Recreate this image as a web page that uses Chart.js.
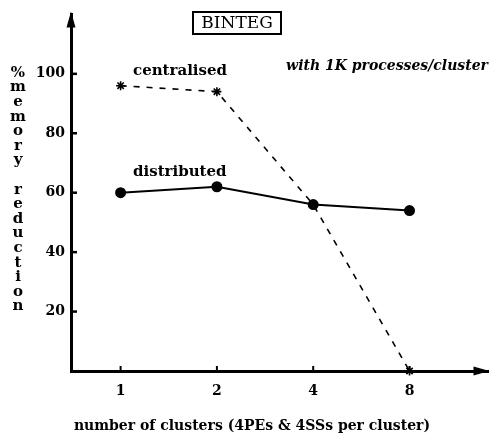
<!DOCTYPE html>
<html>
<head>
<meta charset="utf-8">
<script src="https://cdn.jsdelivr.net/npm/chart.js@4.4.0/dist/chart.umd.min.js"></script>
<style>
  html, body { margin: 0; padding: 0; background: #fff; }
</style>
</head>
<body>
<canvas id="chart" width="495" height="436"></canvas>
<script>
// data
const clusters = ['1', '2', '4', '8'];
const distributed = [60, 62, 56, 54];
const centralised = [96, 94, 56, 0];
const yTicks = [20, 40, 60, 80, 100];

const yTitle = '% memory reduction';
const xTitle = 'number of clusters (4PEs & 4SSs per cluster)';
const boxTitle = 'BINTEG';
const note = 'with 1K processes/cluster';

const SERIF = '"DejaVu Serif", "Liberation Serif", serif';

// arrows, inward ticks, axis titles and the in-plot labels
const decor = {
    id: 'decor',
    afterDraw(chart) {
        const ctx = chart.ctx;
        const area = chart.chartArea;
        const xs = chart.scales.x;
        const ys = chart.scales.y;
        ctx.save();
        ctx.fillStyle = '#000';
        ctx.strokeStyle = '#000';

        // arrow heads
        ctx.beginPath();
        ctx.moveTo(area.left, area.top - 3);
        ctx.lineTo(area.left - 4.5, area.top + 13);
        ctx.lineTo(area.left + 4.5, area.top + 13);
        ctx.closePath();
        ctx.fill();
        ctx.beginPath();
        ctx.moveTo(area.right + 1, area.bottom);
        ctx.lineTo(area.right - 15, area.bottom - 4.5);
        ctx.lineTo(area.right - 15, area.bottom + 4.5);
        ctx.closePath();
        ctx.fill();

        // tick marks pointing into the plot
        ctx.lineWidth = 2.5;
        yTicks.forEach(v => {
            const py = ys.getPixelForValue(v);
            ctx.beginPath();
            ctx.moveTo(area.left, py);
            ctx.lineTo(area.left + 6, py);
            ctx.stroke();
        });
        ctx.lineWidth = 2;
        clusters.forEach((c, i) => {
            const px = xs.getPixelForValue(i);
            ctx.beginPath();
            ctx.moveTo(px, area.bottom);
            ctx.lineTo(px, area.bottom - 5);
            ctx.stroke();
        });

        // y title, one letter per line ('%' sits right on top of 'memory')
        ctx.font = 'bold 15px ' + SERIF;
        ctx.textAlign = 'center';
        ctx.textBaseline = 'middle';
        yTitle.replace('% ', '%').split('').forEach((ch, i) => {
            ctx.fillText(ch, 18, 73 + i * 14.6);
        });

        // x title (sits left of the axis centre in the original)
        ctx.font = 'bold 14px ' + SERIF;
        ctx.fillText(xTitle, 252, 426);

        // series labels
        ctx.textAlign = 'left';
        ctx.font = 'bold 15px ' + SERIF;
        ctx.fillText('centralised', 133, 71);
        ctx.fillText('distributed', 133, 172);

        // boxed title
        ctx.font = '17px ' + SERIF;
        ctx.textAlign = 'center';
        ctx.fillText(boxTitle, 237, 24);
        ctx.lineWidth = 2;
        ctx.strokeRect(193, 12, 88, 22);

        // note
        ctx.font = 'italic bold 14px ' + SERIF;
        ctx.textAlign = 'right';
        ctx.fillText(note, 488, 66);

        ctx.restore();
    }
};

new Chart(document.getElementById('chart'), {
    type: 'line',
    data: {
        datasets: [{
            label: 'distributed',
            data: distributed.map((v, i) => ({ x: i, y: v })),
            borderColor: '#000',
            borderWidth: 2,
            pointStyle: 'circle',
            pointRadius: 4.5,
            pointBackgroundColor: '#000',
            pointBorderColor: '#000',
            clip: false
        }, {
            label: 'centralised',
            data: centralised.map((v, i) => ({ x: i, y: v })),
            borderColor: '#000',
            borderWidth: 1.6,
            borderDash: [6, 7],
            pointStyle: 'star',
            pointRadius: 4.5,
            pointBorderWidth: 1.6,
            pointBorderColor: '#000',
            clip: false
        }]
    },
    options: {
        responsive: false,
        animation: false,
        layout: { padding: { top: 10, right: 2, left: 0, bottom: 0 } },
        plugins: {
            legend: { display: false },
            tooltip: { enabled: false }
        },
        scales: {
            x: {
                type: 'linear',
                min: -0.515,
                max: 3.82,
                afterBuildTicks: s => { s.ticks = clusters.map((c, i) => ({ value: i })); },
                afterFit: s => { s.height = 65; },
                grid: { display: false, drawTicks: false },
                border: { display: true, width: 3, color: '#000' },
                ticks: {
                    callback: v => clusters[v],
                    color: '#000',
                    padding: 12,
                    maxRotation: 0,
                    font: { family: SERIF, size: 14, weight: 'bold' }
                }
            },
            y: {
                min: 0,
                max: 120,
                afterBuildTicks: s => { s.ticks = yTicks.map(v => ({ value: v })); },
                afterFit: s => { s.width = 71; },
                grid: { display: false, drawTicks: false },
                border: { display: true, width: 3, color: '#000' },
                ticks: {
                    color: '#000',
                    padding: 6,
                    font: { family: SERIF, size: 14, weight: 'bold' }
                }
            }
        }
    },
    plugins: [decor]
});
</script>
</body>
</html>
